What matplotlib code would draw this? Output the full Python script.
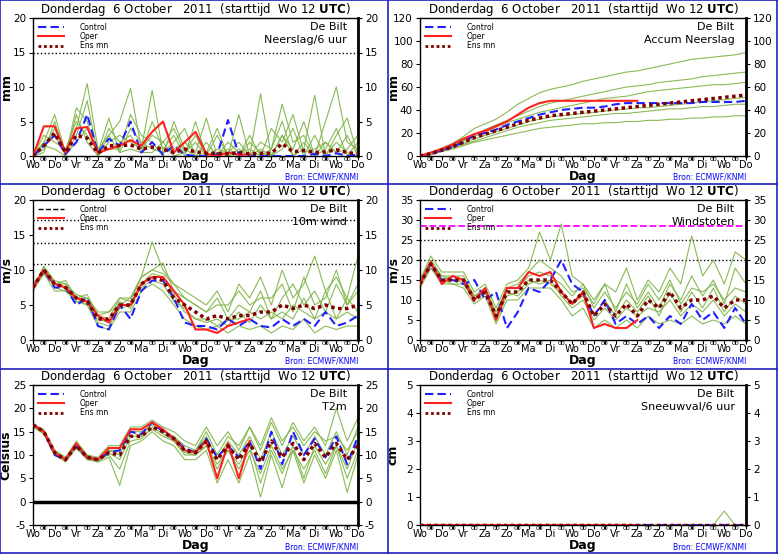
import matplotlib
matplotlib.use("Agg")
import matplotlib.pyplot as plt
from matplotlib.lines import Line2D
import numpy as np

days = ["Wo", "Do", "Vr", "Za", "Zo", "Ma", "Di", "Wo", "Do", "Vr", "Za", "Zo", "Ma", "Di", "Wo", "Do"]
t = np.arange(31) * 0.5
t_oper = t[:21]

# ---------- Neerslag/6 uur ----------
pr_ctrl = [0, 1.5, 3, 0.3, 2, 6, 0.5, 2.5, 1.5, 5, 0.5, 2, 0.2, 1.5, 0.2, 0, 0, 0.2, 5.2, 0.2, 0, 0, 0, 0, 0, 0, 0.3, 0, 0.4, 0, 0.2]
pr_oper = [0, 4.3, 4.3, 0.5, 4, 4.2, 0.5, 1, 1.5, 2.3, 1.5, 3.5, 5, 0.5, 2, 3.5, 0.3, 0, 0.5, 0.2, 0.2]
pr_mean = [0, 1.5, 3.3, 0.5, 3, 2.6, 0.4, 1.5, 1.5, 1.6, 1, 1.3, 1, 0.5, 1, 0.6, 0.4, 0.4, 0.3, 0.5, 0.3, 0.4, 0.4, 1.8, 0.6, 0.8, 0.5, 0.6, 0.9, 0.5, 0.3]
pr_mem = [
    [0, 2, 6, 0.5, 4, 10.5, 1, 3, 5, 9.8, 1, 3, 2, 4, 0.5, 2, 0, 1, 0.5, 2, 0, 9, 0, 3, 1, 5, 0, 2, 0.5, 3, 0],
    [0, 1, 4, 0, 7, 5, 0, 4, 2, 3, 0.5, 5, 1, 3, 0, 5, 0, 3, 0, 1, 0, 2, 1, 7.5, 2, 3, 0, 5, 10, 2, 1],
    [0, 3, 2, 1, 5, 3, 0.5, 5.5, 0.5, 4, 2, 1, 0.5, 2, 4, 0, 2, 0, 1, 0, 3, 0, 1, 5, 0, 1, 8.8, 0, 3, 5.5, 0],
    [0, 0.5, 5, 0, 3, 8, 0, 2, 3, 2, 1, 9.5, 0.5, 1, 2, 0.5, 5.5, 0, 2, 0.5, 1, 0, 4, 2, 6, 0.5, 1, 2, 0.5, 1, 3],
    [0, 2, 3, 0.2, 2, 4, 0.3, 1, 1, 6, 3, 2, 0, 5, 1, 0, 0.5, 4, 0, 6, 0, 1, 0, 3, 0, 2, 0, 1, 4, 0, 2],
    [0, 1.5, 1, 0, 6, 2, 0, 3, 0.5, 1, 0.5, 0.5, 2, 0, 0.5, 3, 0, 0.5, 0, 0, 2, 0.5, 0, 1, 4, 0, 3, 0, 2, 0.5, 0],
]

# ---------- Accum neerslag ----------
ac_ctrl = [0, 2, 5, 8, 12, 18, 20, 23, 27, 30, 33, 36, 38, 40, 41, 42, 42, 43, 45, 46, 46, 46, 46, 46, 46, 46, 47, 47, 47, 47, 48]
ac_oper = [0, 3, 6, 10, 15, 19, 22, 26, 30, 36, 42, 46, 48, 48, 48, 48, 48, 48, 48, 48, 48]
ac_mean = [0, 2, 5, 8, 12, 16, 19, 22, 25, 28, 31, 33, 35, 36, 37, 38, 39, 40, 41, 42, 43, 44, 45, 46, 47, 48, 49, 50, 51, 52, 53]
ac_mem = [
    [0, 3, 7, 11, 17, 24, 28, 32, 38, 45, 50, 55, 58, 60, 62, 65, 67, 69, 71, 73, 74, 76, 78, 80, 82, 84, 85, 86, 87, 88, 90],
    [0, 2, 4, 6, 9, 12, 14, 16, 18, 20, 22, 24, 25, 26, 27, 28, 28, 29, 29, 30, 30, 31, 31, 32, 32, 33, 33, 34, 34, 35, 35],
    [0, 2, 6, 9, 14, 19, 23, 27, 31, 35, 39, 43, 46, 48, 50, 52, 54, 56, 58, 60, 61, 62, 64, 65, 66, 67, 69, 70, 71, 72, 73],
    [0, 1, 4, 7, 10, 13, 16, 19, 22, 25, 27, 29, 31, 32, 33, 34, 35, 36, 37, 37, 38, 39, 40, 41, 41, 42, 43, 43, 44, 45, 45],
    [0, 3, 6, 9, 13, 17, 21, 25, 29, 32, 35, 38, 40, 42, 44, 46, 48, 50, 51, 52, 54, 56, 57, 58, 59, 60, 61, 62, 62, 63, 64],
    [0, 2, 5, 8, 11, 15, 18, 21, 24, 27, 30, 32, 34, 35, 36, 37, 38, 39, 40, 41, 42, 42, 43, 44, 45, 46, 47, 48, 49, 50, 51],
]

# ---------- 10m wind ----------
wi_ctrl = [7.5, 10, 7.5, 7.5, 5, 6, 2, 1.5, 5, 3, 7, 8.5, 8.5, 6, 2.5, 2, 2, 1.5, 3, 2, 3, 2, 1.8, 3, 2, 3, 2, 4, 2, 2.5, 3.5]
wi_oper = [7.5, 10, 8, 7.5, 6, 5.5, 3.5, 2.5, 5, 5, 8, 9, 9, 7, 5, 1.5, 1.5, 1, 2, 2.5, 3]
wi_mean = [7.5, 10, 8, 7.5, 6, 5.5, 3, 3, 5, 5, 8, 9, 8.5, 6, 5, 4, 3, 3.5, 3, 3.5, 3.5, 4, 4, 5, 4.5, 5, 4.5, 5, 4.5, 4.5, 5]
wi_mem = [
    [7.5, 10.5, 8.5, 8, 6.5, 6, 4, 4, 6, 6, 9, 14, 10, 8, 7, 6, 5, 7, 4, 8, 6, 9, 5, 10, 6, 8, 12, 7, 9, 6, 12],
    [7, 9.5, 7, 7, 5.5, 5, 2, 1.5, 4, 4, 7, 8, 7, 5, 3, 2, 1.5, 2, 1, 2, 1.5, 2, 1, 2, 1.5, 3, 1, 2, 1.5, 2, 2],
    [8, 10, 8, 8.5, 6, 6.5, 3.5, 3, 6, 5.5, 9, 10, 11, 7, 6, 5, 4, 6, 3, 5, 4, 7, 3, 6, 8, 5, 7, 4, 8, 5, 7],
    [7.5, 10, 7.5, 7, 6, 5, 3, 2.5, 5.5, 4.5, 8, 9.5, 9, 6.5, 4, 3, 2.5, 3, 2, 4, 2.5, 5, 3, 4, 3, 6, 3, 7, 3, 6, 4],
    [7, 10.5, 8, 8, 6, 6, 3.5, 4, 5, 6, 9, 10, 9.5, 8, 6, 5, 4, 5, 5, 7, 5, 6, 6, 8, 4, 9, 5, 6, 10, 5, 8],
    [7.5, 9.5, 8, 7.5, 5.5, 5.5, 2.5, 2, 4.5, 5, 7.5, 8.5, 8, 5.5, 4.5, 3, 3, 2, 3, 3, 4, 3, 4, 3, 5, 4, 3, 4, 3, 4, 3],
]

# ---------- Windstoten ----------
gu_ctrl = [14, 19, 15, 15, 14, 15, 10, 12, 3, 7, 13, 12, 15, 20, 14, 12, 6, 10, 4, 6, 4, 6, 3, 6, 4, 9, 5, 7, 3, 8, 4]
gu_oper = [14, 19.5, 14, 16, 15, 10, 13, 5, 13, 13, 17, 16, 17, 12, 9, 12, 3, 4, 3, 3, 5]
gu_mean = [14, 19, 15, 15, 15, 10, 12, 6, 12, 12, 15, 15, 15, 12, 9, 12, 6, 9, 6, 9, 6, 10, 8, 12, 8, 10, 10, 11, 8, 10, 10]
gu_mem = [
    [15, 21, 17, 17, 17, 12, 14, 8, 14, 15, 18, 27, 20, 29, 16, 14, 10, 14, 12, 18, 10, 15, 12, 18, 14, 26, 16, 20, 14, 22, 20],
    [14, 18, 14, 14, 13, 9, 11, 4, 10, 10, 13, 13, 13, 10, 6, 8, 3, 5, 3, 5, 3, 6, 4, 5, 4, 6, 4, 5, 4, 6, 4],
    [14, 19, 16, 16, 16, 11, 13, 7, 13, 13, 16, 17, 16, 14, 11, 14, 8, 12, 8, 12, 9, 14, 10, 15, 9, 13, 12, 14, 10, 13, 12],
    [13, 18, 15, 14, 14, 10, 12, 5, 11, 12, 15, 14, 15, 11, 8, 10, 5, 8, 5, 8, 6, 8, 7, 10, 6, 9, 7, 10, 6, 9, 7],
    [15, 20, 16, 15, 15, 11, 12, 6, 13, 14, 17, 20, 18, 16, 12, 13, 9, 14, 7, 14, 8, 12, 8, 14, 10, 16, 11, 15, 9, 18, 14],
    [14, 19, 15, 16, 14, 10, 13, 6, 12, 11, 14, 15, 14, 12, 9, 11, 6, 10, 6, 10, 7, 11, 6, 12, 7, 12, 8, 13, 7, 11, 9],
]

# ---------- T2m ----------
tt_ctrl = [16.5, 15, 10, 9, 12, 9.5, 9, 10.5, 11, 15, 14.5, 17, 15, 13.5, 11.5, 10.5, 13.5, 9.5, 12, 9.5, 13, 7, 15, 8, 15, 10, 13.5, 9.5, 14, 8, 14]
tt_oper = [16.5, 15, 10.5, 9, 12.5, 9.5, 9, 11.5, 11.5, 15.5, 15.5, 17, 15.5, 13.5, 11, 10.5, 13, 5, 12.5, 5, 13]
tt_mean = [16.5, 15, 10.5, 9, 12, 9.5, 9, 10.5, 10, 14, 14, 16, 15, 13.5, 11, 10.5, 13, 9, 12, 9, 12.5, 8.5, 13, 9.5, 12.5, 9, 12.5, 9.5, 12.5, 9, 12]
tt_mem = [
    [16.5, 15.5, 11, 9.5, 13, 10, 9.5, 12, 12, 16, 16, 17.5, 16, 15, 13, 12, 16, 12, 15, 11, 16, 11, 17, 12, 17, 13, 16, 12, 20, 13, 18],
    [16, 14.5, 10, 8.5, 11.5, 9, 8.5, 9.5, 3.5, 12, 13, 15, 13, 12, 9, 9, 11, 4, 9, 4, 10, 1, 10, 3, 11, 4, 10, 5, 11, 2, 10],
    [16.5, 15, 11, 9, 12.5, 9.5, 9, 11, 11, 15, 15, 16.5, 15, 14, 12, 11, 14, 9, 13, 10, 14, 9, 15, 10, 14, 10, 14, 10, 15, 10, 16],
    [16, 15, 10.5, 9, 12, 9, 9, 10, 7, 13, 13.5, 16, 14.5, 13, 10.5, 10, 12, 7, 11, 7, 11, 6, 12, 7, 11, 7, 11, 6, 12, 5, 11],
    [16.5, 15, 10, 9, 12, 10, 9, 11, 10, 15, 14, 17, 15, 14, 11, 11, 15, 10, 14, 12, 16, 12, 18, 13, 16, 12, 15, 13, 14, 11, 15],
    [16.5, 14.5, 10.5, 9, 11.5, 9.5, 8.5, 10.5, 9, 14, 14, 15.5, 14, 13, 10, 10, 12, 8, 11, 8, 12, 4, 11, 6, 12, 5, 12, 8, 12, 7, 13],
]

# ---------- Sneeuw ----------
sn_ctrl = [0] * 31
sn_oper = [0] * 21
sn_mean = [0] * 31
sn_mem = [[0] * 28 + [0.5, 0, 0]]

GREEN = "#7cb342"
BLUE_BG = "#2020c0"

W, H = 778, 554
fig = plt.figure(figsize=(W / 100, H / 100), dpi=100)

def rect(x0, y0, x1, y1):
    return [x0 / W, 1 - y1 / H, (x1 - x0) / W, (y1 - y0) / H]

panels = [
    dict(pos=(33, 18, 358, 156), ylim=(0, 20), step=5, ylabel="mm", lab="De Bilt\nNeerslag/6 uur",
         data=(pr_ctrl, pr_oper, pr_mean, pr_mem), hl=[(15, ':', 'k')]),
    dict(pos=(420, 18, 746, 156), ylim=(0, 120), step=20, ylabel="mm", lab="De Bilt\nAccum Neerslag",
         data=(ac_ctrl, ac_oper, ac_mean, ac_mem), hl=[]),
    dict(pos=(33, 200, 358, 340), ylim=(0, 20), step=5, ylabel="m/s", lab="De Bilt\n10m wind",
         data=(wi_ctrl, wi_oper, wi_mean, wi_mem), hl=[(10.8, ':', 'k'), (13.9, ':', 'k'), (17.2, ':', 'k')], dashed=True),
    dict(pos=(420, 200, 746, 340), ylim=(0, 35), step=5, ylabel="m/s", lab="De Bilt\nWindstoten",
         data=(gu_ctrl, gu_oper, gu_mean, gu_mem), hl=[(20, ':', 'k'), (25, ':', 'k'), (28.5, '--', 'magenta')]),
    dict(pos=(33, 385, 358, 525), ylim=(-5, 25), step=5, ylabel="Celsius", lab="De Bilt\nT2m",
         data=(tt_ctrl, tt_oper, tt_mean, tt_mem), hl=[], zero=True),
    dict(pos=(420, 385, 746, 525), ylim=(0, 5), step=1, ylabel="cm", lab="De Bilt\nSneeuwval/6 uur",
         data=(sn_ctrl, sn_oper, sn_mean, sn_mem), hl=[]),
]

title = r"Donderdag  6 October   2011  (starttijd  Wo 12 $\bf{UTC}$)"

for p in panels:
    ax = fig.add_axes(rect(*p["pos"]))
    ctrl, oper, mean, mem = p["data"]
    for m in mem:
        ax.plot(t[:len(m)], m, color=GREEN, lw=0.8, alpha=0.9, zorder=2)
    for y, ls, c in p["hl"]:
        ax.axhline(y, ls=ls, color=c, lw=1.0 if c == 'k' else 1.3, zorder=1)
    if p.get("zero"):
        ax.axhline(0, color="k", lw=2.5, zorder=1)
    ax.plot(t, ctrl, color="#2020ff", ls=(0, (4, 2)), lw=1.5, zorder=4)
    ax.plot(t_oper, oper, color="#ff2020", lw=1.5, zorder=5)
    ax.plot(t, mean, color="#800000", ls=(0, (1, 1)), lw=2.5, zorder=6)
    lo, hi = p["ylim"]
    ax.set_xlim(0, 15)
    ax.set_ylim(lo, hi)
    yt = np.arange(lo, hi + 0.01, p["step"])
    ax.set_yticks(yt)
    ax.set_yticklabels([f"{int(v)}" for v in yt], fontsize=7.5)
    ax.tick_params(axis="y", length=3, direction="out", right=True, labelright=True, labelsize=7.5, pad=2)
    ax.set_xticks(np.arange(0, 15.01, 0.5))
    ax.set_xticklabels([])
    ax.tick_params(axis="x", length=3, direction="out")
    xt = ax.get_xaxis_transform()
    for i, d in enumerate(days):
        ax.annotate(d, (i, 0), xycoords=xt, xytext=(0, -4), textcoords="offset pixels",
                    ha="center", va="top", fontsize=7)
    for i in range(15):
        ax.annotate("00", (i + 0.5, 0), xycoords=xt, xytext=(0, -1), textcoords="offset pixels",
                    ha="center", va="top", fontsize=4.5)
    for s in ax.spines.values():
        s.set_linewidth(1.0)
    ax.spines["right"].set_linewidth(2)
    ax.set_ylabel(p["ylabel"], fontsize=9, fontweight="bold")
    ax.yaxis.set_label_coords(-0.062, 0.5)
    ax.annotate("Dag", (0.5, 0), xycoords="axes fraction", xytext=(0, -14), textcoords="offset pixels",
                ha="center", va="top", fontsize=9, fontweight="bold")
    ax.annotate("Bron: ECMWF/KNMI", (1.0, 0), xycoords="axes fraction", xytext=(0, -17),
                textcoords="offset pixels", ha="right", va="top", fontsize=5.5, color="#0000ff")
    ax.set_title(title, fontsize=8.5, pad=3)
    ax.text(0.965, 0.97, p["lab"], transform=ax.transAxes, ha="right", va="top", fontsize=8,
            linespacing=1.4, zorder=7)
    handles = [Line2D([], [], color="#2020ff", ls=(0, (4, 2)), lw=1.5) if not p.get("dashed") else
               Line2D([], [], color="k", ls="--", lw=1),
               Line2D([], [], color="#ff2020", lw=1.5),
               Line2D([], [], color="#800000", ls=(0, (1, 1)), lw=2)]
    leg = ax.legend(handles, ["Control", "Oper", "Ens mn"], loc="upper left", fontsize=5.5, frameon=False,
                    handlelength=3.5, labelspacing=0.05, borderaxespad=0.2, handletextpad=2)
    leg.set_zorder(8)

# blue panel separators
for (x0, y0, x1, y1) in [(0, 0, W, 0), (0, H - 1, W, H - 1), (0, 0, 0, H), (W - 1, 0, W - 1, H),
                         (388, 0, 388, H), (0, 184, W, 184), (0, 369, W, 369)]:
    fig.add_artist(Line2D([x0 / W, x1 / W], [1 - y0 / H, 1 - y1 / H], color=BLUE_BG, lw=1.2))

fig.savefig("out.png", dpi=100)
